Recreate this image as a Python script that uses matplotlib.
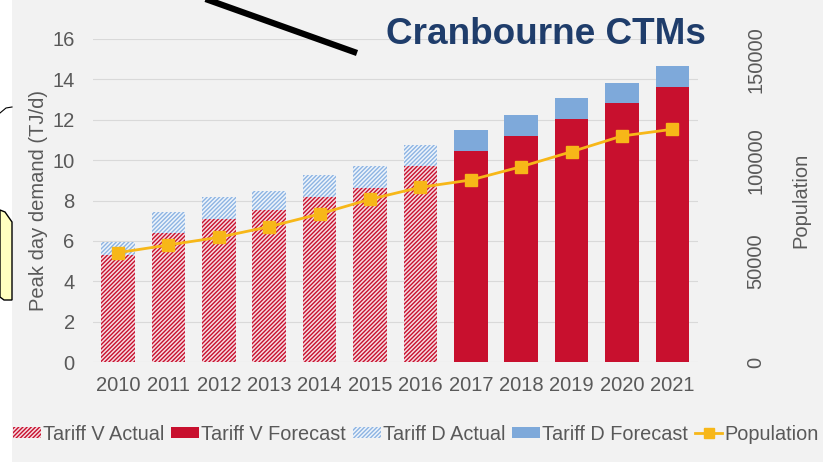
import matplotlib
matplotlib.use("Agg")
import matplotlib.pyplot as plt
from matplotlib.patches import Patch, Polygon, Rectangle
from matplotlib.lines import Line2D

plt.rcParams['font.family'] = ['Liberation Sans', 'DejaVu Sans']
plt.rcParams['hatch.linewidth'] = 1.0

# data
years = ['2010', '2011', '2012', '2013', '2014', '2015', '2016',
         '2017', '2018', '2019', '2020', '2021']
tariff_v = [5.30, 6.37, 7.07, 7.53, 8.19, 8.63, 9.71, 10.45, 11.21, 12.04, 12.84, 13.64]
tariff_d = [0.66, 1.07, 1.09, 0.95, 1.07, 1.08, 1.04, 1.04, 1.02, 1.02, 0.99, 1.02]
population = [54150, 57960, 61780, 67030, 73320, 80600, 86550,
              90160, 96750, 104180, 111960, 115280]
n_actual = 7  # 2010-2016 are actuals, rest forecast

grey = '#595959'
red = '#c8102e'
blue = '#8db4e2'
gold = '#f7b718'

fig = plt.figure(figsize=(8.37, 4.62), dpi=100, facecolor='white')

# grey slide panel + bits of the screenshot around it
fig.patches.append(Rectangle((12 / 837, 0), (823 - 12) / 837, 1, transform=fig.transFigure,
                             facecolor='#f2f2f2', edgecolor='none', zorder=-2))
fig.patches.append(Polygon([(0, 1 - 210 / 462), (5 / 837, 1 - 212 / 462), (12 / 837, 1 - 222 / 462),
                            (12 / 837, 1 - 300 / 462), (4 / 837, 1 - 300 / 462), (0, 1 - 297 / 462)],
                           closed=True, transform=fig.transFigure, facecolor='#ffffc0',
                           edgecolor='black', lw=1, zorder=-1))
fig.lines.append(Line2D([0, 6 / 837, 12 / 837], [1 - 113 / 462, 1 - 108 / 462, 1 - 107 / 462],
                        transform=fig.transFigure, color='black', lw=0.8, zorder=-1))

ax = fig.add_axes([92.8 / 837, 1 - 362 / 462, 604.8 / 837, 323 / 462])
ax.set_facecolor('none')
x = list(range(len(years)))
w = 0.67

xa, xf = x[:n_actual], x[n_actual:]
va, vf = tariff_v[:n_actual], tariff_v[n_actual:]
da, df = tariff_d[:n_actual], tariff_d[n_actual:]

ax.bar(xa, va, w, facecolor='#f5dce2', edgecolor=red, lw=0, hatch='////////')
ax.bar(xf, vf, w, color=red, lw=0)
ax.bar(xa, da, w, bottom=va, facecolor='#eef4fb', edgecolor=blue, lw=0, hatch='////////')
ax.bar(xf, df, w, bottom=vf, color='#7ea9da', lw=0)

ax.set_xlim(-0.5, len(years) - 0.5)
ax.set_ylim(0, 16)
ax.set_yticks(range(0, 17, 2))
ax.set_xticks(x)
ax.set_xticklabels(years)
ax.grid(axis='y', color='#d9d9d9', lw=0.8)
ax.set_axisbelow(True)
for s in ax.spines.values():
    s.set_visible(False)
ax.tick_params(axis='both', length=0, labelsize=14.5, colors=grey)
ax.tick_params(axis='y', pad=13)
ax.tick_params(axis='x', pad=10)
ax.set_ylabel('Peak day demand (TJ/d)', fontsize=14.5, color=grey, labelpad=3)

ax2 = ax.twinx()
ax2.plot(x, population, color=gold, lw=2, marker='s', markersize=8.5)
ax2.set_ylim(0, 160000)
ax2.set_yticks([0, 50000, 100000, 150000])
ax2.set_yticklabels(['0', '50000', '100000', '150000'], rotation=90, va='center')
for s in ax2.spines.values():
    s.set_visible(False)
ax2.tick_params(axis='y', length=0, labelsize=14.5, colors=grey, pad=35)
ax2.set_ylabel('Population', fontsize=14.5, color=grey, labelpad=19)

fig.text(546 / 837, 1 - 35 / 462, 'Cranbourne CTMs', fontsize=26.6, fontweight='bold',
         color='#1f3d6b', ha='center', va='center')

# the black pointer line crossing the top
fig.lines.append(Line2D([200 / 837, 357 / 837], [1 + 3 / 462, 1 - 53 / 462],
                        transform=fig.transFigure, color='black', lw=4.5, solid_capstyle='butt'))

handles = [
    Patch(facecolor='#f5dce2', edgecolor=red, lw=0, hatch='////////'),
    Patch(facecolor=red, lw=0),
    Patch(facecolor='#eef4fb', edgecolor=blue, lw=0, hatch='////////'),
    Patch(facecolor='#7ea9da', lw=0),
    Line2D([], [], color=gold, lw=2, marker='s', markersize=7),
]
labels = ['Tariff V Actual', 'Tariff V Forecast', 'Tariff D Actual', 'Tariff D Forecast', 'Population']
leg = fig.legend(handles, labels, loc='center', bbox_to_anchor=(416 / 837, 1 - 434 / 462),
                 ncol=5, frameon=False, fontsize=14.3, handlelength=1.4, handleheight=0.45,
                 handletextpad=0.1, columnspacing=0.35, borderaxespad=0)
for t in leg.get_texts():
    t.set_color(grey)

fig.savefig('out.png', dpi=100, facecolor=fig.get_facecolor())
